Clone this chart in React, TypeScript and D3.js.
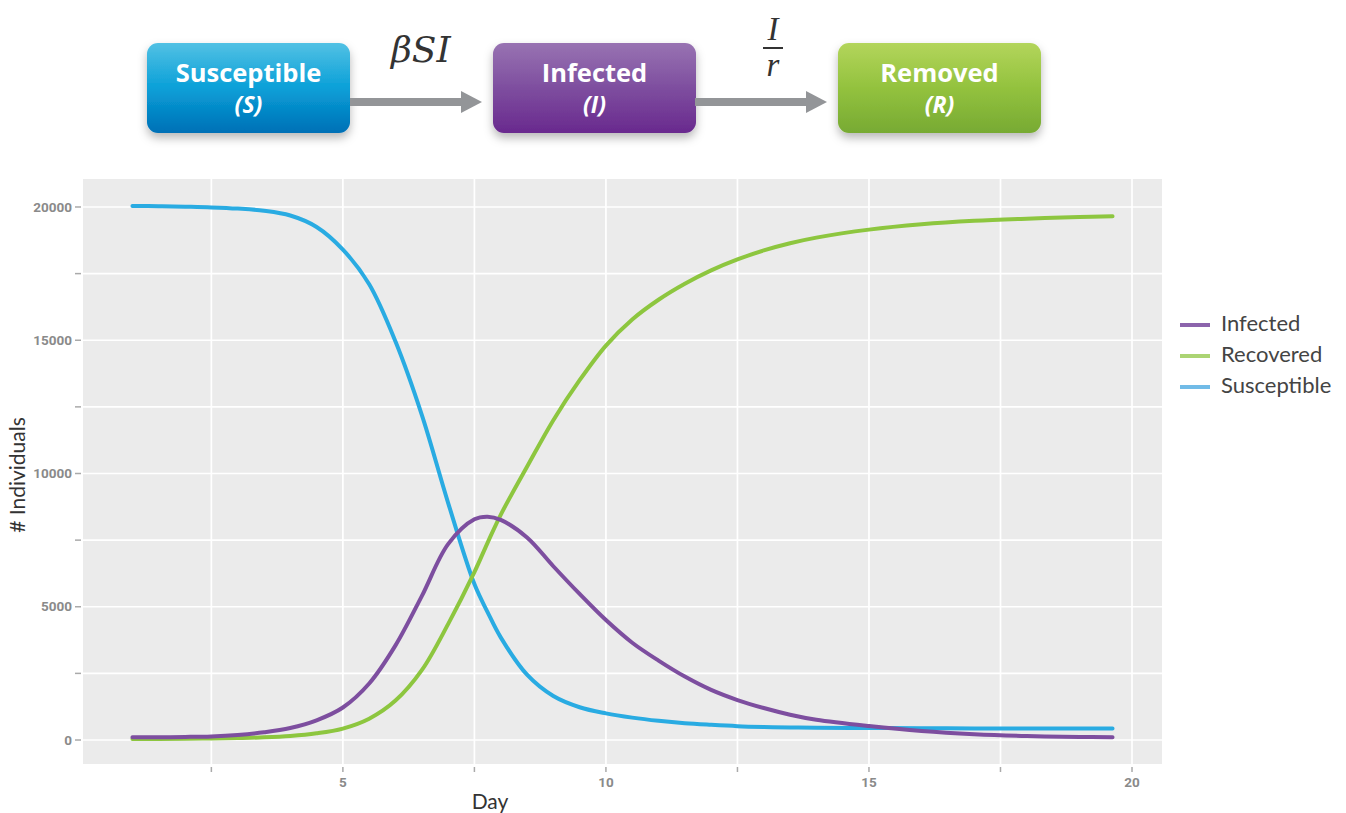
import React, { useEffect } from "react";
import * as d3 from "d3";

const days = [1, 1.5, 2, 2.5, 3, 3.5, 4, 4.5, 5, 5.5, 6, 6.5, 7, 7.5, 7.75, 8, 8.5, 9, 9.5, 10, 10.5, 11, 11.5, 12, 12.5, 13, 13.5, 14, 15, 16, 17, 18, 19, 19.63];
const susceptible = [20040, 20030, 20010, 19985, 19940, 19860, 19680, 19250, 18400, 17100, 14950, 12200, 8900, 5850, 4800, 3850, 2450, 1650, 1230, 1000, 840, 720, 630, 570, 520, 490, 470, 460, 450, 440, 435, 432, 430, 428];
const infected = [100, 105, 115, 135, 190, 290, 450, 740, 1220, 2120, 3550, 5400, 7350, 8280, 8380, 8260, 7600, 6520, 5480, 4500, 3650, 2980, 2380, 1880, 1500, 1200, 950, 760, 525, 340, 220, 150, 115, 100];
const recovered = [40, 42, 48, 58, 75, 100, 150, 250, 430, 800, 1480, 2620, 4350, 6300, 7400, 8450, 10250, 12000, 13500, 14800, 15780, 16520, 17120, 17620, 18030, 18370, 18640, 18850, 19150, 19350, 19480, 19560, 19620, 19650];

const xTicks = [2.5, 5, 7.5, 10, 12.5, 15, 17.5, 20];
const yTicks = [0, 2500, 5000, 7500, 10000, 12500, 15000, 17500, 20000];

const seriesNames = ["Infected", "Recovered", "Susceptible"];
const lineColors = ["#7D4E9F", "#8DC63F", "#29ABE2"];
const legendColors = ["#8C64AC", "#ABD473", "#71BBE7"];

const boxLabels = ["Susceptible", "Infected", "Removed"];
const boxSymbols = ["(S)", "(I)", "(R)"];

export default function App() {
  useEffect(() => {
    document.body.style.margin = "0";
  }, []);

  const W = 1346, H = 813;
  const pl = 83, pr = 1162, pt = 179, pb = 764;
  const x = d3.scaleLinear().domain([0.06, 20.57]).range([pl, pr]);
  const y = d3.scaleLinear().domain([-900, 21050]).range([pb, pt]);

  const seriesData = [infected, recovered, susceptible];
  const line = d3
    .line<[number, number]>()
    .x((d) => x(d[0]))
    .y((d) => y(d[1]))
    .curve(d3.curveCatmullRom.alpha(0.5));

  const boxX = [147, 493, 838];
  const boxW = 203, boxY = 43, boxH = 90;
  const grads = [
    ["#52C1E4", "#0AA0D8", "#0070B6"],
    ["#9873B2", "#7E4E9F", "#69298E"],
    ["#B3D55B", "#93C23E", "#77AA33"],
  ];
  const tickFont = "Roboto, sans-serif";
  const labFont = "Lato, 'Open Sans', sans-serif";
  const boxFont = "'Open Sans', Lato, sans-serif";

  return (
    <svg width={W} height={H} style={{ display: "block" }}>
      <defs>
        {grads.map((g, i) => (
          <linearGradient key={i} id={`bg${i}`} x1="0" y1="0" x2="0" y2="1">
            <stop offset="0%" stopColor={g[0]} />
            <stop offset="50%" stopColor={g[1]} />
            <stop offset="100%" stopColor={g[2]} />
          </linearGradient>
        ))}
        <filter id="shadow" x="-20%" y="-20%" width="140%" height="160%">
          <feDropShadow dx="0" dy="5" stdDeviation="5" floodColor="#000" floodOpacity="0.28" />
        </filter>
      </defs>

      {/* flow diagram */}
      {boxX.map((bx, i) => (
        <g key={i}>
          <rect x={bx} y={boxY} width={boxW} height={boxH} rx={11} fill={`url(#bg${i})`} filter="url(#shadow)" />
          <text x={bx + boxW / 2} y={82} textAnchor="middle" fill="#fff" fontFamily={boxFont} fontWeight={700} fontSize={25.5}>
            {boxLabels[i]}
          </text>
          <text x={bx + boxW / 2} y={113} textAnchor="middle" fill="#fff" fontFamily={boxFont} fontWeight={700} fontStyle="italic" fontSize={23}>
            {boxSymbols[i]}
          </text>
        </g>
      ))}
      {[[350, 482], [695, 827]].map(([a, b], i) => (
        <g key={i} fill="#939598">
          <rect x={a} y={98} width={b - a - 20} height={8} />
          <path d={`M${b - 21},91 L${b},102 L${b - 21},113 Z`} />
        </g>
      ))}
      <text x={391} y={62} fontFamily="'DejaVu Serif', 'Liberation Serif', serif" fontStyle="italic" fontSize={36} fill="#333">
        βSI
      </text>
      <text x={773} y={40} textAnchor="middle" fontFamily="'Liberation Serif', serif" fontStyle="italic" fontSize={33} fill="#333">
        I
      </text>
      <rect x={763} y={47} width={20} height={2} fill="#333" />
      <text x={773} y={76} textAnchor="middle" fontFamily="'Liberation Serif', serif" fontStyle="italic" fontSize={33} fill="#333">
        r
      </text>

      {/* panel */}
      <rect x={pl} y={pt} width={pr - pl} height={pb - pt} fill="#EBEBEB" />
      {yTicks.map((t) => (
        <line key={`gy${t}`} x1={pl} x2={pr} y1={y(t)} y2={y(t)} stroke="#fff" strokeWidth={1.7} />
      ))}
      {xTicks.map((t) => (
        <line key={`gx${t}`} x1={x(t)} x2={x(t)} y1={pt} y2={pb} stroke="#fff" strokeWidth={1.7} />
      ))}

      {/* axes */}
      {yTicks.map((t) => (
        <g key={`ty${t}`}>
          <line x1={75} x2={81} y1={y(t)} y2={y(t)} stroke="#AAAAAA" strokeWidth={1.5} />
          {t % 5000 === 0 && (
            <text x={72} y={y(t)} dy="0.35em" textAnchor="end" fontFamily={tickFont} fontWeight={700} fontSize={13.5} fill="#8A8A8A">
              {t}
            </text>
          )}
        </g>
      ))}
      {xTicks.map((t) => (
        <g key={`tx${t}`}>
          <line x1={x(t)} x2={x(t)} y1={767} y2={772} stroke="#AAAAAA" strokeWidth={1.5} />
          {t % 5 === 0 && (
            <text x={x(t)} y={787} textAnchor="middle" fontFamily={tickFont} fontWeight={700} fontSize={13.5} fill="#8A8A8A">
              {t}
            </text>
          )}
        </g>
      ))}
      <text x={490} y={809} textAnchor="middle" fontFamily={labFont} fontSize={21} fill="#333">
        Day
      </text>
      <text transform="translate(25,475) rotate(-90)" textAnchor="middle" fontFamily={labFont} fontSize={21} fill="#333">
        # Individuals
      </text>

      {/* lines */}
      {[2, 1, 0].map((k) => (
        <path
          key={seriesNames[k]}
          d={line(days.map((d, i) => [d, seriesData[k][i]] as [number, number])) || ""}
          fill="none"
          stroke={lineColors[k]}
          strokeWidth={4}
          strokeLinecap="round"
        />
      ))}

      {/* legend */}
      {seriesNames.map((n, i) => (
        <g key={n}>
          <line x1={1180} x2={1210} y1={325 + i * 31} y2={325 + i * 31} stroke={legendColors[i]} strokeWidth={4} />
          <text x={1221} y={323 + i * 31} dy="0.35em" fontFamily={labFont} fontSize={22} fill="#444">
            {n}
          </text>
        </g>
      ))}
    </svg>
  );
}
